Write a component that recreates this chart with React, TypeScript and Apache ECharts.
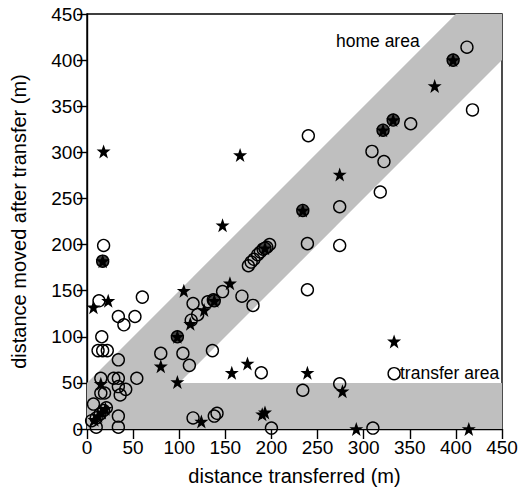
import React, { useEffect, useRef } from "react";
import * as echarts from "echarts";

const xTicks = [0, 50, 100, 150, 200, 250, 300, 350, 400, 450];
const yTicks = [0, 50, 100, 150, 200, 250, 300, 350, 400, 450];

// open circles
const circles: number[][] = [
  [412, 414], [418, 346], [351, 331], [240, 318], [309, 301], [322, 290], [318, 257],
  [274, 241], [239, 201], [274, 199], [239, 151], [189, 61], [274, 49], [234, 42],
  [200, 1], [310, 1], [136, 85], [111, 69], [115, 12], [138, 14], [141, 17],
  [18, 199], [13, 139], [60, 143], [34, 122], [40, 113], [52, 122], [16, 100],
  [12, 85], [17, 85], [22, 85], [34, 75], [15, 55], [29, 55], [34, 55], [54, 55],
  [15, 39], [19, 39], [34, 46], [36, 37], [42, 43], [7, 27], [10, 2], [34, 14], [34, 2],
  [5, 9], [10, 12], [14, 16], [18, 20], [21, 23], [80, 82], [104, 82], [115, 136],
  [120, 124], [113, 118], [131, 138], [137, 140], [147, 149], [168, 144], [180, 134],
  [175, 177], [178, 181], [181, 184], [185, 189], [188, 192], [191, 195], [195, 197],
  [198, 200], [333, 60]
];

// filled stars
const stars: number[][] = [
  [377, 372], [274, 276], [333, 95], [239, 61], [277, 41], [193, 18], [190, 16],
  [292, 0], [414, 0], [157, 61], [174, 71], [124, 8], [18, 301], [166, 297], [147, 221],
  [7, 132], [23, 139], [105, 150], [80, 68], [98, 51], [112, 114], [127, 129], [155, 158],
  [15, 49], [8, 10], [12, 14], [16, 18], [20, 22]
];

// circle with star inside
const circleStars: number[][] = [
  [397, 400], [332, 335], [321, 324], [234, 237], [98, 100], [138, 139], [17, 182], [193, 196]
];

// shaded areas (data coordinates)
const homeArea: number[][] = [[0, 0], [50, 0], [450, 400], [450, 450], [400, 450], [0, 50]];
const transferArea: number[][] = [[0, 0], [450, 0], [450, 50], [0, 50]];

const STAR = "path://M12,1 L14.9,9 L23.4,9 L16.5,14.2 L19.1,22.5 L12,17.5 L4.9,22.5 L7.5,14.2 L0.6,9 L9.1,9 Z";
const FONT = "Liberation Sans, Arial, Helvetica, sans-serif";

function areaSeries(pts: number[][]) {
  return {
    type: "custom",
    silent: true,
    z: 1,
    data: [0],
    renderItem: (_p: any, api: any) => ({
      type: "polygon",
      shape: { points: pts.map((p) => api.coord(p)) },
      style: { fill: "#bfbfbf" },
    }),
  };
}

export default function App() {
  const ref = useRef<HTMLDivElement>(null);
  useEffect(() => {
    const chart = echarts.init(ref.current!, undefined, { renderer: "svg" });
    const axisCommon = {
      type: "value",
      min: 0,
      max: 450,
      interval: 50,
      axisLine: { show: true, onZero: false, lineStyle: { color: "#000", width: 1.4 } },
      axisTick: { show: true, inside: false, length: 10, lineStyle: { color: "#000", width: 1.4 } },
      splitLine: { show: false },
      nameLocation: "middle",
      nameTextStyle: { fontFamily: FONT, fontSize: 20, color: "#000" },
    };
    chart.setOption({
      animation: false,
      backgroundColor: "#fff",
      grid: { left: 87, right: 25, top: 14, bottom: 64, show: true, borderColor: "#000", borderWidth: 1.4, backgroundColor: "transparent" },
      xAxis: {
        ...axisCommon,
        name: "distance transferred (m)",
        nameGap: 37,
        axisLabel: { fontFamily: FONT, fontSize: 19, color: "#000", margin: 9 },
      },
      yAxis: {
        ...axisCommon,
        name: "distance moved after transfer (m)",
        nameGap: 58,
        axisLabel: { fontFamily: FONT, fontSize: 19, color: "#000", margin: 4 },
      },
      graphic: [
        { type: "text", left: 336, top: 32, style: { text: "home area", font: `17.5px ${FONT}`, fill: "#000" }, z: 100 },
        { type: "text", left: 400, top: 364, style: { text: "transfer area", font: `17.5px ${FONT}`, fill: "#000" }, z: 100 },
      ],
      series: [
        areaSeries(homeArea),
        areaSeries(transferArea),
        {
          type: "scatter",
          z: 5,
          data: circles,
          symbol: "circle",
          symbolSize: 12,
          itemStyle: { color: "rgba(0,0,0,0)", borderColor: "#000", borderWidth: 1.4, opacity: 1 },
        },
        {
          type: "scatter",
          z: 6,
          data: circleStars,
          symbol: "circle",
          symbolSize: 12,
          itemStyle: { color: "#444", borderColor: "#000", borderWidth: 1.4, opacity: 1 },
        },
        {
          type: "scatter",
          z: 7,
          data: stars.concat(circleStars),
          symbol: STAR,
          symbolSize: 14,
          itemStyle: { color: "#000", opacity: 1 },
        },
      ],
    });
    return () => chart.dispose();
  }, []);
  return <div ref={ref} style={{ width: 527, height: 493, position: "absolute", left: 0, top: 0 }} />;
}
